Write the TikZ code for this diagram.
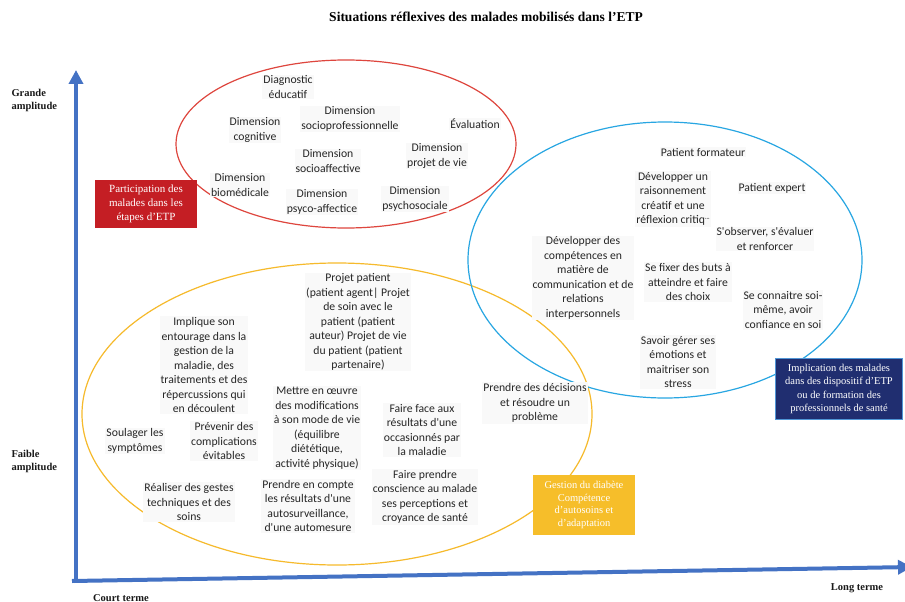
\documentclass[tikz,border=0pt]{standalone}
\usepackage{fontspec}
\setmainfont{Liberation Serif}
\newfontfamily\calib{Carlito}
\usetikzlibrary{arrows.meta}
\definecolor{axisblue}{RGB}{68,114,196}
\definecolor{ellred}{RGB}{222,70,62}
\definecolor{ellblue}{RGB}{40,166,226}
\definecolor{ellyellow}{RGB}{246,186,44}
\definecolor{boxred}{RGB}{196,30,36}
\definecolor{boxnavy}{RGB}{32,46,112}
\definecolor{boxnavyedge}{RGB}{80,150,214}
\definecolor{boxyellow}{RGB}{246,190,42}
\tikzset{
  lbl/.style={font=\calib\fontsize{11.7}{14.5}\selectfont, align=center, fill=black!2.5, inner sep=1pt, text=black!85},
  axlbl/.style={font=\bfseries\fontsize{10.5}{13}\selectfont, align=left, text=black!90},
  catbox/.style={font=\fontsize{11}{14}\selectfont, align=center, text=white, inner sep=2pt},
  axisline/.style={axisblue, line width=4pt, -{Triangle[width=14pt,length=14pt]}},
  ell/.style={line width=1.2pt}
}
\begin{document}
\begin{tikzpicture}[x=1pt,y=-1pt]
\useasboundingbox[fill=white] (0,0) rectangle (905,602);

% title
\node[font=\bfseries\fontsize{13.5}{16}\selectfont] (title) at (486,17) {Situations réflexives des malades mobilisés dans l'ETP};

% ellipses
\draw[ell, ellred] (346,144) ellipse [x radius=170, y radius=84];
\draw[ell, ellyellow] (337,414) ellipse [x radius=255, y radius=151];
\draw[ell, ellblue] (665,260) ellipse [x radius=197, y radius=138];

% axes
\coordinate (origin) at (72,581);
\coordinate (ytop) at (76,70);
\coordinate (xend) at (912,567);
\draw[axisline] (76,583) -- (ytop);
\draw[axisline] (origin) -- (xend);

% axis labels
\node[axlbl, anchor=west] (grande) at (8,100) {Grande\\amplitude};
\node[axlbl, anchor=west] (faible) at (8,461) {Faible\\amplitude};
\node[axlbl] (court) at (121,598) {Court terme};
\node[axlbl] (long) at (857,588) {Long terme};

% category boxes
\node[catbox, fill=boxred, minimum width=102pt, minimum height=48pt] (partic) at (146,204) {Participation des\\malades dans les\\étapes d'ETP};
\node[catbox, fill=boxnavy, draw=boxnavyedge, line width=1pt, minimum width=127pt, minimum height=61pt, font=\fontsize{10.5}{13.3}\selectfont] (impl) at (839,389) {Implication des malades\\dans des dispositif d'ETP\\ou de formation des\\professionnels de santé};
\node[catbox, fill=boxyellow, minimum width=102pt, minimum height=60pt, font=\fontsize{10.5}{12.7}\selectfont] (gest) at (584,505) {Gestion du diabète\\Compétence\\d'autosoins et\\d'adaptation};

% red ellipse texts
\node[lbl] (diag) at (288,87) {Diagnostic\\éducatif};
\node[lbl] (cogn) at (255,130) {Dimension\\cognitive};
\node[lbl] (sprof) at (350,119) {Dimension\\socioprofessionnelle};
\node[lbl] (eval) at (475,124) {Évaluation};
\node[lbl] (saff) at (328,161) {Dimension\\socioaffective};
\node[lbl] (pvie) at (437,156) {Dimension\\projet de vie};
\node[lbl] (biom) at (240,185) {Dimension\\biomédicale};
\node[lbl] (psyaff) at (322,202) {Dimension\\psyco-affectice};
\node[lbl] (psysoc) at (415,199) {Dimension\\psychosociale};

% blue ellipse texts
\node[lbl] (pform) at (703,152) {Patient formateur};
\node[lbl] (raison) at (673,199) {Développer un\\raisonnement\\créatif et une\\réflexion critiq\raisebox{0.6ex}{\fontsize{6}{6}\selectfont ···}};
\node[lbl] (pexp) at (772,188) {Patient expert};
\node[lbl] (sobs) at (765,239) {S'observer, s'évaluer\\et renforcer};
\node[lbl] (comp) at (583,278) {Développer des\\compétences en\\matière de\\communication et de\\relations\\interpersonnels};
\node[lbl] (buts) at (688,282) {Se fixer des buts à\\atteindre et faire\\des choix};
\node[lbl] (conn) at (783,310) {Se connaitre soi-\\même, avoir\\confiance en soi};
\node[lbl] (emot) at (678,362) {Savoir gérer ses\\émotions et\\maitriser son\\stress};

% yellow ellipse texts
\node[lbl] (projet) at (358,322) {Projet patient\\(patient agent| Projet\\de soin avec le\\patient (patient\\auteur) Projet de vie\\du patient (patient\\partenaire)};
\node[lbl] (entour) at (204,365) {Implique son\\entourage dans la\\gestion de la\\maladie, des\\traitements et des\\répercussions qui\\en découlent};
\node[lbl] (mettre) at (317,428) {Mettre en œuvre\\des modifications\\à son mode de vie\\(équilibre\\diététique,\\activité physique)};
\node[lbl] (face) at (422,430) {Faire face aux\\résultats d'une\\occasionnés par\\la maladie};
\node[lbl] (decis) at (535,403) {Prendre des décisions\\et résoudre un\\problème};
\node[lbl] (consc) at (425,497) {Faire prendre\\conscience au malade\\ses perceptions et\\croyance de santé};
\node[lbl] (compte) at (308,506) {Prendre en compte\\les résultats d'une\\autosurveillance,\\d'une automesure};
\node[lbl] (soul) at (135,441) {Soulager les\\symptômes};
\node[lbl] (prev) at (224,441) {Prévenir des\\complications\\évitables};
\node[lbl] (gestes) at (189,502) {Réaliser des gestes\\techniques et des\\soins};
\end{tikzpicture}
\end{document}
